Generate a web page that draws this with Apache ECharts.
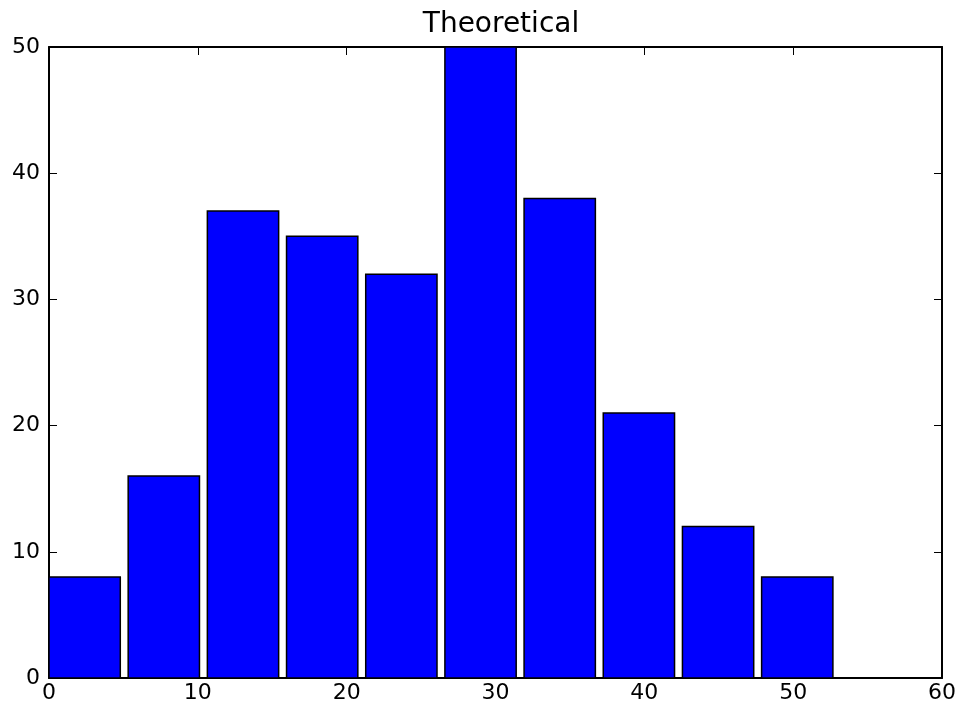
<!DOCTYPE html>
<html>
<head>
<meta charset="utf-8">
<script src="https://cdn.jsdelivr.net/npm/echarts@6/dist/echarts.min.js"></script>
<style>
  html, body { margin: 0; padding: 0; background: #fff; }
  #chart { width: 959px; height: 707px; }
</style>
</head>
<body>
<div id="chart"></div>
<script>
// histogram bins (left edge) and counts
const binLefts = [0, 5.32, 10.64, 15.96, 21.28, 26.6, 31.92, 37.24, 42.56, 47.88]
const counts = [8, 16, 37, 35, 32, 50, 38, 21, 12, 8]
const xTicks = [0, 10, 20, 30, 40, 50, 60]
const yTicks = [0, 10, 20, 30, 40, 50]
const barWidth = 4.79

const chart = echarts.init(document.getElementById('chart'))

const data = binLefts.map((x, i) => [x, x + barWidth, counts[i]])

function tickStyle() {
  return { show: true, inside: true, length: 8, lineStyle: { color: '#000', width: 1 } }
}
function lineStyle() {
  return { show: true, onZero: false, lineStyle: { color: '#000', width: 2 } }
}
const labelFont = { color: '#000', fontFamily: 'DejaVu Sans', fontSize: 22 }

const option = {
  animation: false,
  title: {
    text: 'Theoretical',
    left: 496,
    textAlign: 'center',
    top: 6,
    textStyle: { fontFamily: 'DejaVu Sans', fontSize: 28, fontWeight: 'normal', color: '#000' }
  },
  grid: { left: 49, right: 17, top: 47, bottom: 29 },
  xAxis: [
    {
      type: 'value',
      min: xTicks[0],
      max: xTicks[xTicks.length - 1],
      interval: 10,
      axisLine: lineStyle(),
      axisTick: tickStyle(),
      axisLabel: Object.assign({ margin: 4 }, labelFont),
      splitLine: { show: false }
    },
    {
      type: 'value',
      position: 'top',
      min: xTicks[0],
      max: xTicks[xTicks.length - 1],
      interval: 10,
      axisLine: lineStyle(),
      axisTick: tickStyle(),
      axisLabel: { show: false },
      splitLine: { show: false }
    }
  ],
  yAxis: [
    {
      type: 'value',
      min: yTicks[0],
      max: yTicks[yTicks.length - 1],
      interval: 10,
      axisLine: lineStyle(),
      axisTick: tickStyle(),
      axisLabel: Object.assign({ margin: 9 }, labelFont),
      splitLine: { show: false }
    },
    {
      type: 'value',
      position: 'right',
      min: yTicks[0],
      max: yTicks[yTicks.length - 1],
      interval: 10,
      axisLine: lineStyle(),
      axisTick: tickStyle(),
      axisLabel: { show: false },
      splitLine: { show: false }
    }
  ],
  series: [
    {
      type: 'custom',
      xAxisIndex: 0,
      yAxisIndex: 0,
      data: data,
      z: 1,
      renderItem: function(params, api) {
        const p0 = api.coord([api.value(0), api.value(2)])
        const p1 = api.coord([api.value(1), 0])
        return {
          type: 'rect',
          shape: { x: p0[0], y: p0[1], width: p1[0] - p0[0], height: p1[1] - p0[1] },
          style: { fill: '#0000ff', stroke: '#000', lineWidth: 1.5 }
        }
      }
    }
  ]
}

chart.setOption(option)
</script>
</body>
</html>
